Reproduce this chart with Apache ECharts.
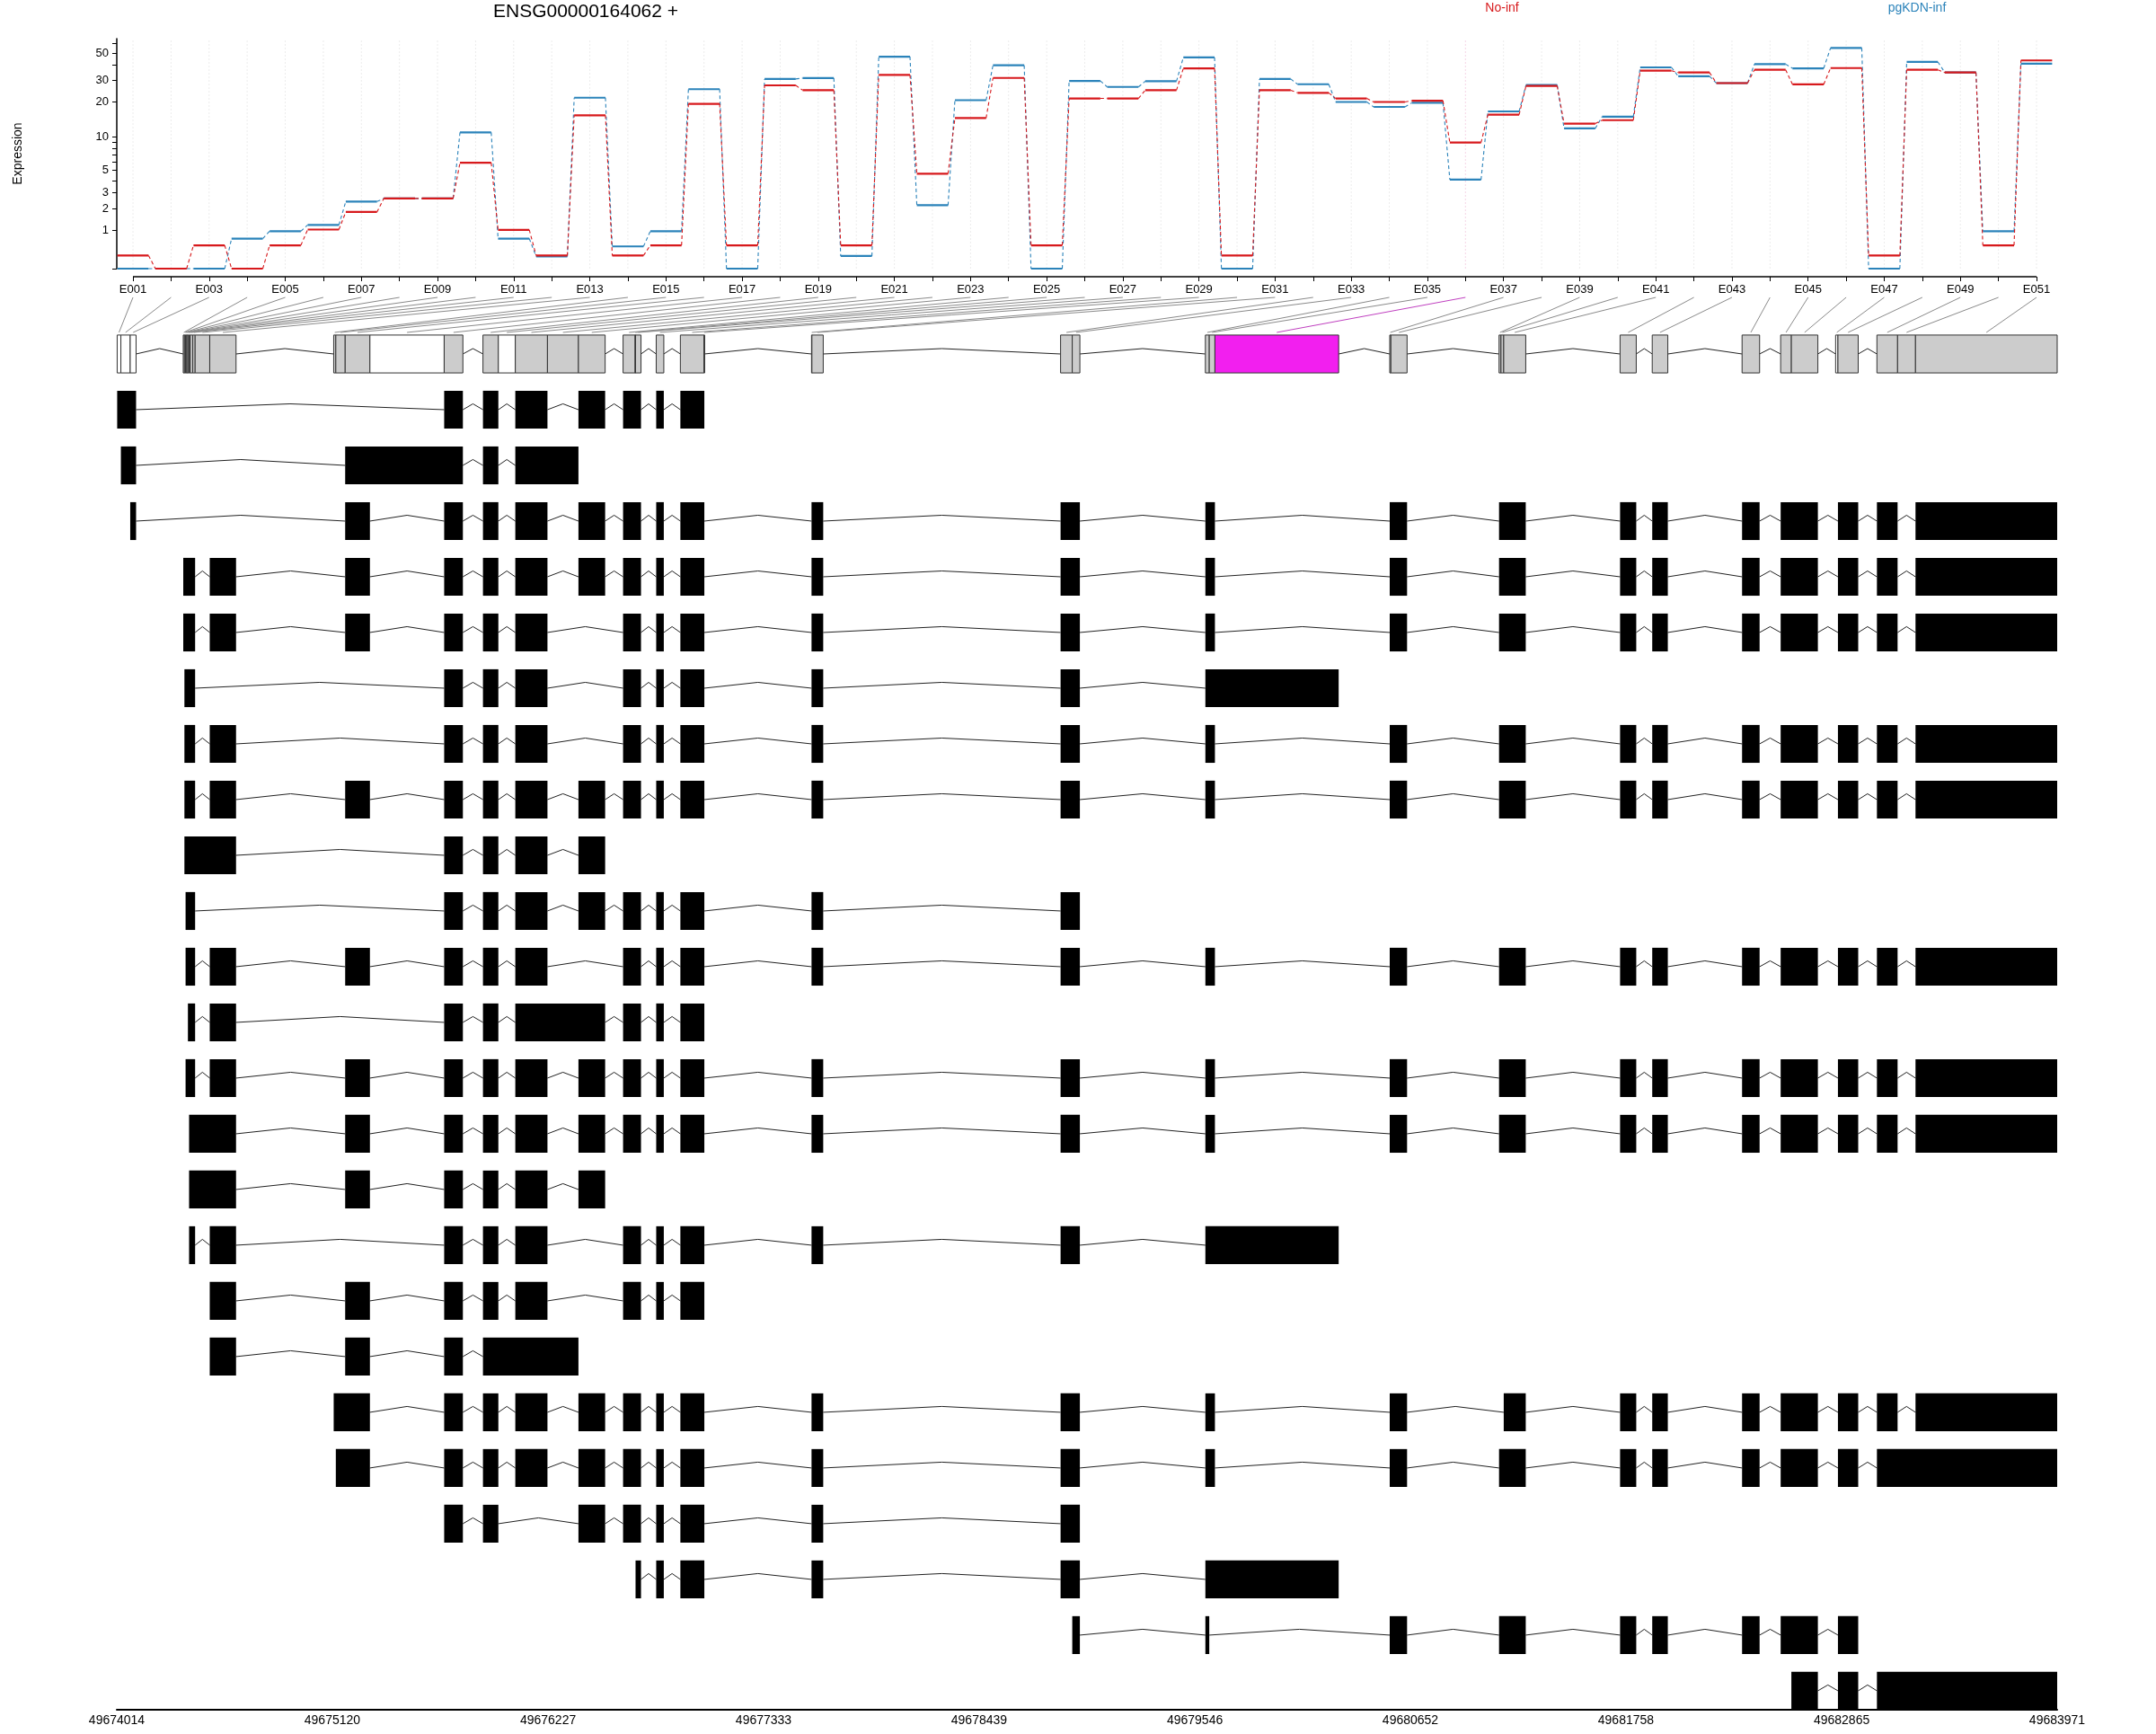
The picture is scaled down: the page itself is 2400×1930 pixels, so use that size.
<!DOCTYPE html>
<html><head><meta charset="utf-8">
<script src="https://cdn.jsdelivr.net/npm/echarts@6/dist/echarts.min.js"></script>
<style>html,body{margin:0;padding:0;background:#fff}#c{width:2400px;height:1930px}</style>
</head><body><div id="c"></div>
<script>
// ---------------- data ----------------
const exonLabels = ['E001','E002','E003','E004','E005','E006','E007','E008','E009','E010',
 'E011','E012','E013','E014','E015','E016','E017','E018','E019','E020',
 'E021','E022','E023','E024','E025','E026','E027','E028','E029','E030',
 'E031','E032','E033','E034','E035','E036','E037','E038','E039','E040',
 'E041','E042','E043','E044','E045','E046','E047','E048','E049','E050','E051'];
const noInf = [0.27,0,0.53,0,0.53,1.04,1.81,2.6,2.6,5.9,
 1.03,0.27,15.4,0.27,0.53,19.2,0.53,27.3,24.9,0.53,
 33.3,4.64,14.6,31.4,0.53,21.3,21.3,24.9,37.6,0.27,
 24.9,23.7,21.3,19.9,20.4,8.97,15.6,27.0,13.1,14.0,
 36.0,34.8,28.5,36.6,27.8,37.8,0.27,36.6,34.8,0.53,43.6];
const pgKDNinf = [0,0,0,0.73,0.98,1.22,2.40,2.6,2.6,11.0,
 0.73,0.25,21.6,0.50,0.98,25.4,0,30.8,31.3,0.26,
 46.8,2.18,20.6,39.8,0,29.7,26.5,29.5,46.1,0,
 30.8,27.9,19.9,18.1,19.6,4.07,16.6,27.5,11.9,15.0,
 38.3,32.4,28.5,40.7,37.6,55.0,0,42.4,34.8,0.98,41.0];
const yTickValues = [0,1,2,3,4,5,6,7,8,9,10,20,30,40,50,60];
const yLabelValues = [1,2,3,5,10,20,30,50];
const genomicTicks = [49674014,49675120,49676227,49677333,49678439,49679546,49680652,49681758,49682865,49683971];
// exon bins: genomic [start, end]
const bins = [
 [49674016,49674035],[49674035,49674083],[49674083,49674113],
 [49674355,49674361],[49674361,49674367],[49674367,49674373],[49674373,49674379],[49674379,49674385],
 [49674385,49674391],[49674391,49674404],[49674404,49674416],[49674416,49674491],[49674491,49674626],
 [49675127,49675138],[49675138,49675186],[49675186,49675313],[49675313,49675694],[49675694,49675790],
 [49675893,49675972],[49675972,49676059],[49676059,49676224],[49676224,49676383],[49676383,49676520],
 [49676612,49676674],[49676674,49676676],[49676676,49676704],[49676782,49676821],
 [49676906,49677027],[49677027,49677029],[49677579,49677581],[49677581,49677639],
 [49678857,49678917],[49678917,49678956],
 [49679600,49679620],[49679620,49679649],[49679649,49680284],
 [49680546,49680552],[49680552,49680635],
 [49681107,49681117],[49681117,49681131],[49681131,49681244],
 [49681728,49681811],[49681893,49681973],[49682354,49682444],
 [49682552,49682607],[49682607,49682743],[49682834,49682846],[49682846,49682950],
 [49683046,49683152],[49683152,49683244],[49683244,49683971]];
// bin status: g = tested, w = not tested, m = significant
const binStatus = ['w','w','w','g','g','g','g','g','g','g','g','g','g','g','g','g','w','g','g','w',
 'g','g','g','g','w','g','g','g','g','w','g','g','g','g','g','m','g','g','g','g',
 'g','g','g','g','g','g','w','g','g','g','g'];
// transcripts: lists of [firstBin, lastBin] (1-based)
const transcripts = [
 [[1,3],[18,18],[19,19],[21,21],[23,23],[24,26],[27,27],[28,29]],
 [[2,3],[16,18],[19,19],[21,22]],
 [[3,3],[16,16],[18,18],[19,19],[21,21],[23,23],[24,26],[27,27],[28,29],[30,31],[32,33],[34,35],[37,38],[39,41],[42,42],[43,43],[44,44],[45,46],[48,48],[49,49],[51,51]],
 [[4,11],[13,13],[16,16],[18,18],[19,19],[21,21],[23,23],[24,26],[27,27],[28,29],[30,31],[32,33],[34,35],[37,38],[39,41],[42,42],[43,43],[44,44],[45,46],[48,48],[49,49],[51,51]],
 [[4,11],[13,13],[16,16],[18,18],[19,19],[21,21],[24,26],[27,27],[28,29],[30,31],[32,33],[34,35],[37,38],[39,41],[42,42],[43,43],[44,44],[45,46],[48,48],[49,49],[51,51]],
 [[5,11],[18,18],[19,19],[21,21],[24,26],[27,27],[28,29],[30,31],[32,33],[34,36]],
 [[5,11],[13,13],[18,18],[19,19],[21,21],[24,26],[27,27],[28,29],[30,31],[32,33],[34,35],[37,38],[39,41],[42,42],[43,43],[44,44],[45,46],[48,48],[49,49],[51,51]],
 [[5,11],[13,13],[16,16],[18,18],[19,19],[21,21],[23,23],[24,26],[27,27],[28,29],[30,31],[32,33],[34,35],[37,38],[39,41],[42,42],[43,43],[44,44],[45,46],[48,48],[49,49],[51,51]],
 [[5,13],[18,18],[19,19],[21,21],[23,23]],
 [[6,11],[18,18],[19,19],[21,21],[23,23],[24,26],[27,27],[28,29],[30,31],[32,33]],
 [[6,11],[13,13],[16,16],[18,18],[19,19],[21,21],[24,26],[27,27],[28,29],[30,31],[32,33],[34,35],[37,38],[39,41],[42,42],[43,43],[44,44],[45,46],[48,48],[49,49],[51,51]],
 [[8,11],[13,13],[18,18],[19,19],[21,23],[24,26],[27,27],[28,29]],
 [[6,11],[13,13],[16,16],[18,18],[19,19],[21,21],[23,23],[24,26],[27,27],[28,29],[30,31],[32,33],[34,35],[37,38],[39,41],[42,42],[43,43],[44,44],[45,46],[48,48],[49,49],[51,51]],
 [[9,13],[16,16],[18,18],[19,19],[21,21],[23,23],[24,26],[27,27],[28,29],[30,31],[32,33],[34,35],[37,38],[39,41],[42,42],[43,43],[44,44],[45,46],[48,48],[49,49],[51,51]],
 [[9,13],[16,16],[18,18],[19,19],[21,21],[23,23]],
 [[9,11],[13,13],[18,18],[19,19],[21,21],[24,26],[27,27],[28,29],[30,31],[32,33],[34,36]],
 [[13,13],[16,16],[18,18],[19,19],[21,21],[24,26],[27,27],[28,29]],
 [[13,13],[16,16],[18,18],[19,22]],
 [[14,16],[18,18],[19,19],[21,21],[23,23],[24,26],[27,27],[28,29],[30,31],[32,33],[34,35],[37,38],[41,41],[42,42],[43,43],[44,44],[45,46],[48,48],[49,49],[51,51]],
 [[15,16],[18,18],[19,19],[21,21],[23,23],[24,26],[27,27],[28,29],[30,31],[32,33],[34,35],[37,38],[39,41],[42,42],[43,43],[44,44],[45,46],[48,48],[49,51]],
 [[18,18],[19,19],[23,23],[24,26],[27,27],[28,29],[30,31],[32,33]],
 [[26,26],[27,27],[28,29],[30,31],[32,33],[34,36]],
 [[33,33],[34,34],[37,38],[39,41],[42,42],[43,43],[44,44],[45,46],[48,48]],
 [[46,46],[48,48],[49,51]]
];
const geneTitle = 'ENSG00000164062 +';
const conditionNames = ['No-inf','pgKDN-inf'];

// ---------------- chart ----------------
const FONT = '"Liberation Sans", Arial, Helvetica, sans-serif';
const RED = '#D7191C', BLUE = '#2B83BA';
const tr = v => Math.log10(v + 1);
const U_MAX = 1.822;
const STEP = 42.38;
const X0 = 1 - 18 / STEP, X1 = X0 + 2160 / STEP;
const GMIN = genomicTicks[0], GMAX = genomicTicks[genomicTicks.length - 1];
const fillOf = s => s === 'w' ? '#FFFFFF' : (s === 'm' ? '#F21FEF' : '#CCCCCC');

const chart = echarts.init(document.getElementById('c'), null, {renderer: 'canvas'});

function exprData(vals) {
  return vals.map((v, i) => [i + 1, tr(v), i + 1 < vals.length ? tr(vals[i + 1]) : NaN]);
}
function exprRender(color) {
  return function (params, api) {
    const i = api.value(0), u = api.value(1), un = api.value(2);
    const a = api.coord([i - 0.41, u]), b = api.coord([i + 0.41, u]);
    const ch = [{type: 'line', shape: {x1: a[0], y1: a[1], x2: b[0], y2: b[1]}, style: {stroke: color, lineWidth: 2.2}}];
    if (!isNaN(un)) {
      const c = api.coord([i + 1 - 0.41, un]);
      ch.push({type: 'line', shape: {x1: b[0], y1: b[1], x2: c[0], y2: c[1]}, style: {stroke: color, lineWidth: 1.1, lineDash: [4, 3]}});
    }
    return {type: 'group', children: ch};
  };
}
function caret(x1, x2, y, h) {
  return {type: 'polyline', shape: {points: [[x1, y], [(x1 + x2) / 2, y - h], [x2, y]]},
    style: {stroke: '#222', lineWidth: 1, fill: null}};
}

// gene model data
const topBins = bins.map((b, i) => [b[0], b[1], 0, i]);
const topIntrons = [];
for (let i = 0; i + 1 < bins.length; i++) {
  if (bins[i + 1][0] > bins[i][1]) topIntrons.push([bins[i][1], bins[i + 1][0], 0]);
}
const txExons = [], txIntrons = [];
transcripts.forEach((t, r) => {
  t.forEach((e, j) => {
    txExons.push([bins[e[0] - 1][0], bins[e[1] - 1][1], r + 1]);
    if (j + 1 < t.length) txIntrons.push([bins[e[1] - 1][1], bins[t[j + 1][0] - 1][0], r + 1]);
  });
});

const option = {
  animation: false,
  backgroundColor: '#ffffff',
  textStyle: {fontFamily: FONT},
  title: [
    {text: geneTitle, left: 652, top: 3, textAlign: 'center', padding: 0,
      textStyle: {fontSize: 21, fontWeight: 'normal', color: '#000', fontFamily: FONT}},
    {text: conditionNames[0], left: 1672, top: 2, textAlign: 'center', padding: 0,
      textStyle: {fontSize: 14, fontWeight: 'normal', color: RED, fontFamily: FONT}},
    {text: conditionNames[1], left: 2134, top: 2, textAlign: 'center', padding: 0,
      textStyle: {fontSize: 14, fontWeight: 'normal', color: BLUE, fontFamily: FONT}}
  ],
  grid: [
    {left: 130, width: 2160, top: 43, height: 256},
    {left: 130, width: 2160, top: 363, height: 1540}
  ],
  xAxis: [
    {type: 'value', gridIndex: 0, min: X0, max: X1, offset: 9,
      axisLine: {show: false, onZero: false}, splitLine: {show: false},
      axisTick: {show: true, length: 5, customValues: exonLabels.map((_, i) => i + 1), lineStyle: {color: '#000'}},
      axisLabel: {customValues: exonLabels.map((_, i) => i + 1).filter(v => v % 2 === 1),
        formatter: v => exonLabels[Math.round(v) - 1], fontSize: 13, color: '#000', margin: 8, fontFamily: FONT}},
    {type: 'value', gridIndex: 1, min: GMIN, max: GMAX, position: 'bottom',
      axisLine: {show: true, onZero: false, lineStyle: {color: '#000', width: 2}}, splitLine: {show: false},
      axisTick: {show: false},
      axisLabel: {customValues: genomicTicks, formatter: v => String(Math.round(v)), fontSize: 14, color: '#000', margin: 5, fontFamily: FONT}}
  ],
  yAxis: [
    {type: 'value', gridIndex: 0, min: 0, max: U_MAX,
      name: 'Expression', nameLocation: 'middle', nameGap: 103, nameRotate: 90,
      nameTextStyle: {fontSize: 14, color: '#000', fontFamily: FONT},
      axisLine: {show: true, onZero: false, lineStyle: {color: '#000', width: 1.5}}, splitLine: {show: false},
      axisTick: {show: true, length: 5, customValues: yTickValues.map(tr), lineStyle: {color: '#000'}},
      axisLabel: {customValues: yLabelValues.map(tr), formatter: v => String(Math.round(Math.pow(10, v) - 1)),
        fontSize: 13, color: '#000', margin: 9, fontFamily: FONT}},
    {type: 'value', gridIndex: 1, min: -0.5, max: 24.34, inverse: true, show: false}
  ],
  series: [
    {id: 'vgrid', type: 'custom', xAxisIndex: 0, yAxisIndex: 0, silent: true,
      data: exonLabels.map((_, i) => [i + 1]),
      renderItem: (p, api) => {
        const i = api.value(0);
        const a = api.coord([i, 0]), b = api.coord([i, U_MAX]);
        return {type: 'line', shape: {x1: a[0], y1: a[1], x2: b[0], y2: b[1]},
          style: {stroke: exonLabels[i - 1] === 'E036' ? '#f6d6e6' : '#ececec', lineWidth: 1, lineDash: [2, 2]}};
      }},
    {id: 'blue', name: conditionNames[1], type: 'custom', xAxisIndex: 0, yAxisIndex: 0,
      data: exprData(pgKDNinf), renderItem: exprRender(BLUE)},
    {id: 'red', name: conditionNames[0], type: 'custom', xAxisIndex: 0, yAxisIndex: 0,
      data: exprData(noInf), renderItem: exprRender(RED)},
    {id: 'xline', type: 'custom', xAxisIndex: 0, yAxisIndex: 0, data: [[1, exonLabels.length]],
      renderItem: (p, api) => {
        const a = api.coord([api.value(0), 0]), b = api.coord([api.value(1), 0]);
        return {type: 'line', shape: {x1: a[0], y1: a[1] + 9, x2: b[0], y2: b[1] + 9}, style: {stroke: '#000', lineWidth: 1.5}};
      }},
    {id: 'topIntrons', type: 'custom', xAxisIndex: 1, yAxisIndex: 1, data: topIntrons,
      renderItem: (p, api) => {
        const a = api.coord([api.value(0), api.value(2)]), b = api.coord([api.value(1), api.value(2)]);
        return caret(a[0], b[0], a[1], 6);
      }},
    {id: 'topBins', type: 'custom', xAxisIndex: 1, yAxisIndex: 1, data: topBins,
      renderItem: (p, api) => {
        const a = api.coord([api.value(0), api.value(2)]), b = api.coord([api.value(1), api.value(2)]);
        const h = api.size([0, 1])[1] * 0.68;
        return {type: 'rect', shape: {x: a[0], y: a[1] - h / 2, width: Math.max(b[0] - a[0], 0.8), height: h},
          style: {fill: fillOf(binStatus[api.value(3)]), stroke: '#333', lineWidth: 1}};
      }},
    {id: 'txIntrons', type: 'custom', xAxisIndex: 1, yAxisIndex: 1, data: txIntrons,
      renderItem: (p, api) => {
        const a = api.coord([api.value(0), api.value(2)]), b = api.coord([api.value(1), api.value(2)]);
        return caret(a[0], b[0], a[1], 6.5);
      }},
    {id: 'txExons', type: 'custom', xAxisIndex: 1, yAxisIndex: 1, data: txExons,
      renderItem: (p, api) => {
        const a = api.coord([api.value(0), api.value(2)]), b = api.coord([api.value(1), api.value(2)]);
        const h = api.size([0, 1])[1] * 0.68;
        return {type: 'rect', shape: {x: a[0], y: a[1] - h / 2, width: Math.max(b[0] - a[0], 1.5), height: h},
          style: {fill: '#000'}};
      }}
  ]
};
chart.setOption(option);

// connector lines from exon labels to bins (positions from the two coordinate systems)
const fan = bins.map((b, i) => {
  const p1 = chart.convertToPixel({gridIndex: 0}, [i + 1, 0]);
  const p2 = chart.convertToPixel({gridIndex: 1}, [(b[0] + b[1]) / 2, 0]);
  return [p1[0], p1[1] + 32, p2[0], p2[1] - 24, i];
});
chart.setOption({series: [{id: 'fan', type: 'custom', coordinateSystem: 'none', data: fan, silent: true,
  renderItem: (p, api) => ({type: 'line',
    shape: {x1: api.value(0), y1: api.value(1), x2: api.value(2), y2: api.value(3)},
    style: {stroke: binStatus[api.value(4)] === 'm' ? '#c040c0' : '#8a8a8a', lineWidth: 1}})}]});
</script></body></html>
